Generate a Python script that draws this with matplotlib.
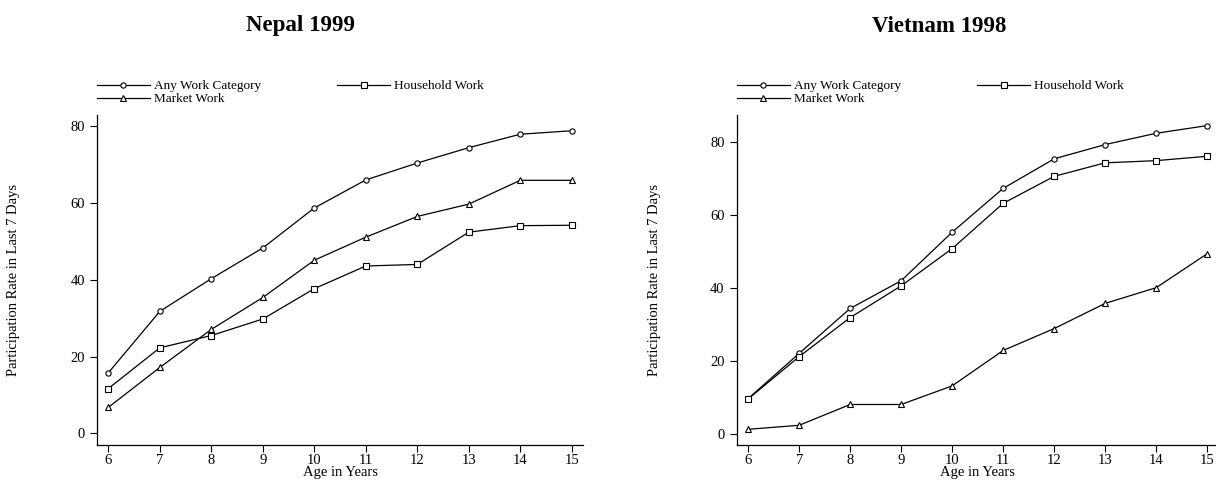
import matplotlib.pyplot as plt

plt.rcParams['font.family'] = ['Liberation Serif', 'DejaVu Serif']

ages = [6, 7, 8, 9, 10, 11, 12, 13, 14, 15]

# Nepal 1999
nepal_any = [15.8, 31.8, 40.3, 48.3, 58.7, 66.0, 70.4, 74.4, 77.9, 78.8]
nepal_household = [11.7, 22.3, 25.5, 29.8, 37.7, 43.6, 44.0, 52.4, 54.1, 54.2]
nepal_market = [6.8, 17.2, 27.1, 35.4, 45.1, 51.1, 56.5, 59.7, 65.9, 65.9]

# Vietnam 1998
viet_any = [9.6, 22.0, 34.3, 41.9, 55.2, 67.2, 75.3, 79.2, 82.3, 84.4]
viet_household = [9.5, 21.1, 31.8, 40.5, 50.7, 63.1, 70.5, 74.2, 74.8, 76.0]
viet_market = [1.2, 2.3, 8.0, 8.0, 13.1, 22.8, 28.8, 35.7, 40.0, 49.3]

labels = ['Any Work Category', 'Household Work', 'Market Work']
markers = ['o', 's', '^']
msizes = [3.8, 4.5, 4.6]

panels = [
    ('Nepal 1999', [nepal_any, nepal_household, nepal_market], [0.0798, 0.0729, 0.3997, 0.6875], (-3.0, 82.9), 0.247),
    ('Vietnam 1998', [viet_any, viet_household, viet_market], [0.606, 0.0729, 0.396, 0.6875], (-3.1, 87.3), 0.772),
]

fig = plt.figure(figsize=(12.16, 4.8), dpi=100)

for title, series, rect, ylim, title_x in panels:
    ax = fig.add_axes(rect)
    handles = []
    for vals, lab, m, ms in zip(series, labels, markers, msizes):
        h, = ax.plot(ages, vals, color='black', linewidth=0.9, marker=m,
                     markersize=ms, markerfacecolor='white',
                     markeredgecolor='black', markeredgewidth=0.8, label=lab)
        handles.append(h)
    ax.set_xlim(5.78, 15.22)
    ax.set_ylim(*ylim)
    ax.set_xticks(ages)
    ax.set_yticks([0, 20, 40, 60, 80])
    for s in ['top', 'right']:
        ax.spines[s].set_visible(False)
    for s in ['left', 'bottom']:
        ax.spines[s].set_linewidth(0.9)
    ax.tick_params(axis='both', labelsize=10.5, length=5.3, width=0.8,
                   direction='out')
    ax.tick_params(axis='y', pad=3.5)
    ax.tick_params(axis='x', pad=1.5)
    ax.set_xlabel('Age in Years', fontsize=10.5, labelpad=-1)
    ax.set_ylabel('Participation Rate in Last 7 Days', fontsize=10.5)
    ax.yaxis.set_label_coords(-0.158, 0.5)
    fig.text(title_x, 1 - 26 / 480, title, fontsize=16.5, fontweight='bold',
             ha='center', va='center')
    # legend: row 1 Any Work / Household Work, row 2 Market Work
    ax.legend([handles[0], handles[2], handles[1]],
              [labels[0], labels[2], labels[1]],
              ncol=2, loc='upper left',
              bbox_to_anchor=(rect[0], 1 - 80 / 480),
              bbox_transform=fig.transFigure, frameon=False,
              fontsize=9.5, handlelength=4.0, handletextpad=0.3,
              columnspacing=5.8, labelspacing=0.05, borderpad=0,
              borderaxespad=0)

fig.savefig('out.png', dpi=100)
